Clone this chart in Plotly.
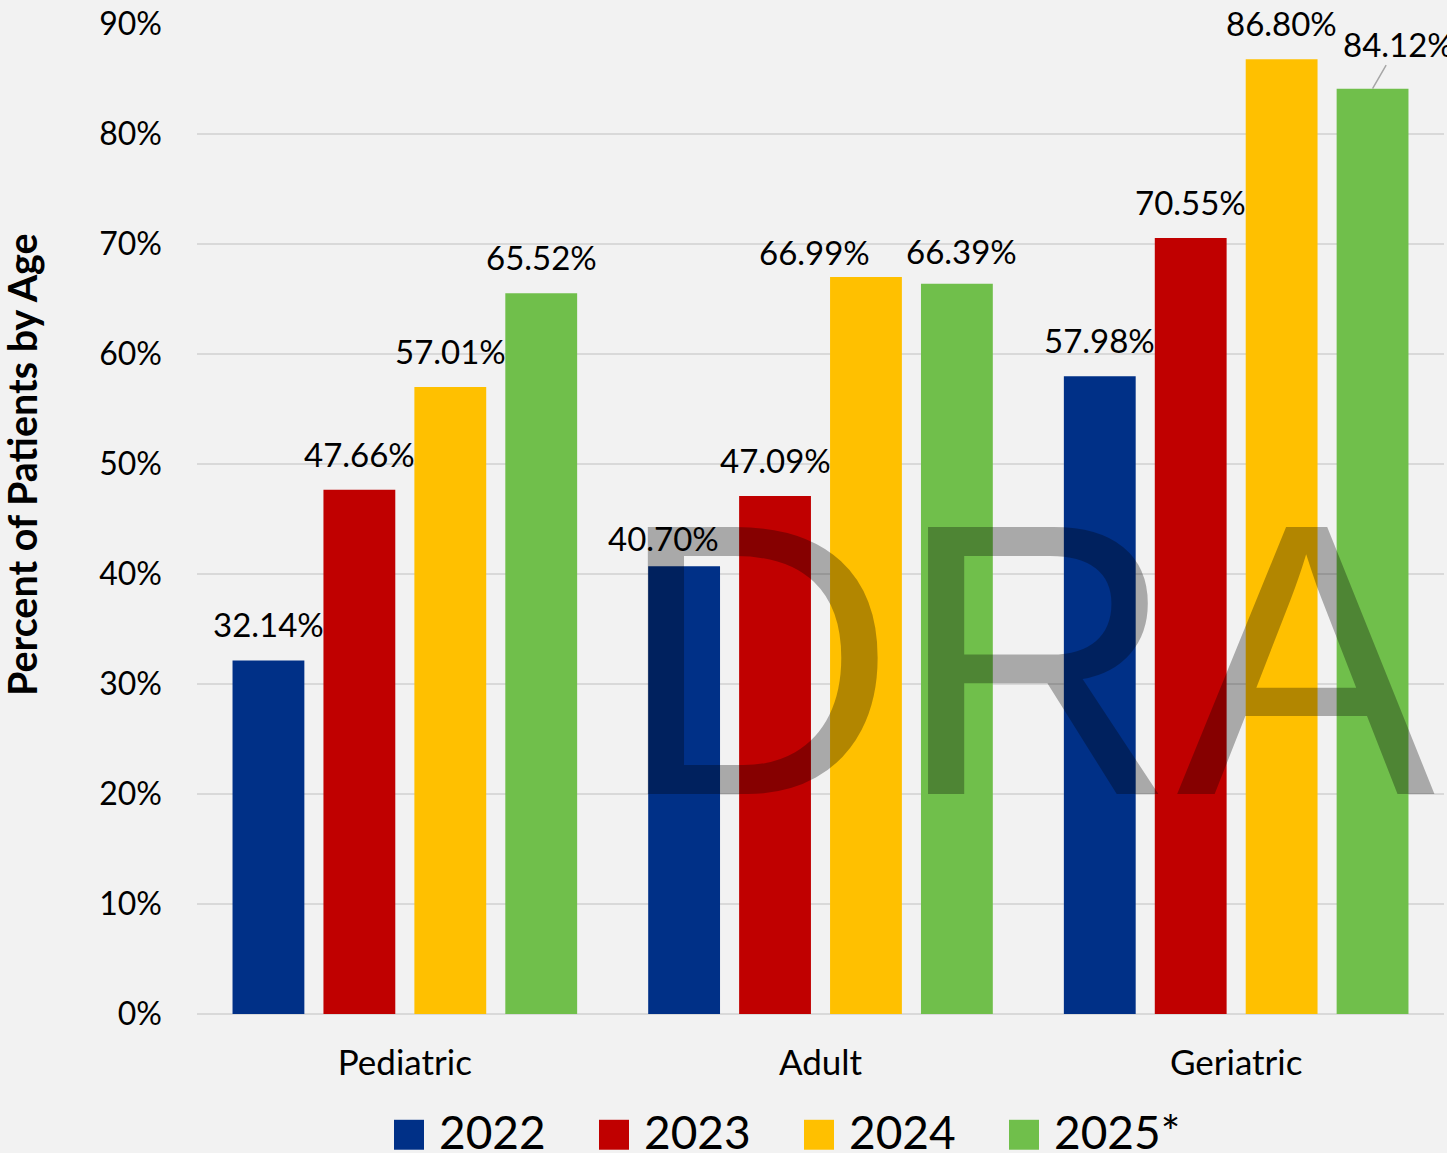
import plotly.graph_objects as go

# ---------------- data ----------------
categories = ["Pediatric", "Adult", "Geriatric"]
years = ["2022", "2023", "2024", "2025*"]
v2022 = [32.14, 40.70, 57.98]
v2023 = [47.66, 47.09, 70.55]
v2024 = [57.01, 66.99, 86.80]
v2025 = [65.52, 66.39, 84.12]
y_ticks = [0, 10, 20, 30, 40, 50, 60, 70, 80, 90]
y_title = "Percent of Patients by Age"
watermark = "DRA"

series = [v2022, v2023, v2024, v2025]
colors = ["#003087", "#C00000", "#FFC000", "#70BF4B"]

# ---------------- layout geometry (pixels) ----------------
W, H = 1447, 1153
L, R, T, B = 197, 1444, 22, 1014
BARGAP = 0.125
GROUPGAP = 0.21
FONT = "Lato"


def px_x(px):
    return (px - L) / (R - L)


def px_y(py):
    return (B - py) / (B - T)


fig = go.Figure()
for name, vals, col in zip(years, series, colors):
    fig.add_trace(go.Bar(x=categories, y=vals, name=name, marker_color=col,
                         marker_line_width=0, showlegend=False))

annotations = []
shapes = []

# data labels (label placement tweaks in pixels: (series, category) -> (xshift, yshift))
slot = (1 - BARGAP) / len(series)
DEFAULT_YSHIFT = 14
label_adjust = {(0, 1): (-21, 6), (2, 1): (-51, 3), (3, 1): (5, 11)}
leader = {(3, 2): (26, -45)}
for k, vals in enumerate(series):
    for i, v in enumerate(vals):
        xpos = i + (k - (len(series) - 1) / 2) * slot
        txt = f"{v:.2f}%"
        if (k, i) in leader:
            ax, ay = leader[(k, i)]
            annotations.append(dict(x=xpos, y=v, xref="x", yref="y", text=txt,
                                    showarrow=True, ax=ax, ay=ay, arrowhead=0,
                                    arrowwidth=1.5, arrowcolor="#a6a6a6",
                                    standoff=0, startstandoff=0,
                                    font=dict(family=FONT, size=33, color="#000000")))
        else:
            xs, ys = label_adjust.get((k, i), (0, DEFAULT_YSHIFT))
            annotations.append(dict(x=xpos, y=v, xref="x", yref="y", text=txt,
                                    showarrow=False, yanchor="bottom",
                                    xshift=xs, yshift=ys,
                                    font=dict(family=FONT, size=33, color="#000000")))

# y axis title
annotations.append(dict(x=px_x(21), y=px_y(464), xref="paper", yref="paper",
                        text=f"<b>{y_title}</b>", textangle=-90, showarrow=False,
                        xanchor="center", yanchor="middle",
                        font=dict(family=FONT, size=39.5, color="#000000")))

# custom legend
for j, (name, col) in enumerate(zip(years, colors)):
    x0 = 394 + j * 205
    shapes.append(dict(type="rect", xref="paper", yref="paper",
                       x0=px_x(x0), x1=px_x(x0 + 30), y0=px_y(1150), y1=px_y(1120),
                       fillcolor=col, line_width=0))
    annotations.append(dict(x=px_x(x0 + 43), y=px_y(1132), xref="paper", yref="paper",
                            text=name, showarrow=False, xanchor="left", yanchor="middle",
                            font=dict(family=FONT, size=46, color="#000000")))

# watermark
annotations.append(dict(x=px_x(1026), y=px_y(659), xref="paper", yref="paper",
                        text=watermark, showarrow=False, xanchor="center", yanchor="middle",
                        font=dict(family="Liberation Sans", size=388, color="rgba(0,0,0,0.3)")))

fig.update_layout(
    width=W, height=H, autosize=False,
    margin=dict(l=L, r=W - R, t=T, b=H - B, pad=0),
    paper_bgcolor="#F2F2F2", plot_bgcolor="#F2F2F2",
    barmode="group", bargap=BARGAP, bargroupgap=GROUPGAP,
    showlegend=False,
    annotations=annotations, shapes=shapes,
    xaxis=dict(type="category", range=[-0.5, len(categories) - 0.5], autorange=False,
               showgrid=False, showline=False, ticks="",
               ticklabelstandoff=25,
               tickfont=dict(family=FONT, size=35, color="#000000")),
    yaxis=dict(range=[0, 90], autorange=False, tickvals=y_ticks,
               ticktext=[f"{t}%" for t in y_ticks],
               showgrid=True, gridcolor="#D9D9D9", gridwidth=1.5,
               zeroline=True, zerolinecolor="#D9D9D9", zerolinewidth=1.5,
               showline=False, ticks="", ticklabelstandoff=34,
               tickfont=dict(family=FONT, size=32, color="#000000")),
)

fig.write_html("out.html", config={"displayModeBar": False},
               post_script="document.body.style.margin='0';")
